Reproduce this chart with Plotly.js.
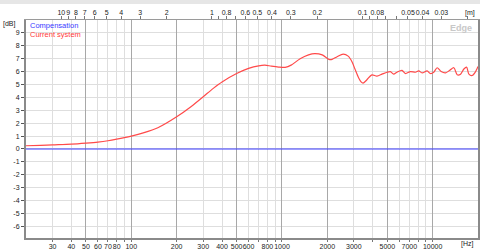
<!DOCTYPE html>
<html><head><meta charset="utf-8">
<script src="https://cdn.plot.ly/plotly-3.0.1.min.js"></script>
<style>html,body{margin:0;padding:0;background:#fff;}#chart{width:480px;height:251px;}</style>
</head><body><div id="chart"></div>
<script>
// Frequency response data (Hz, dB)
const freqHz = [20,25,30,40,50,60,70,80,90,100,120,150,200,250,300,350,400,500,600,700,770,850,950,1050,1150,1320,1500,1650,1850,2050,2150,2320,2550,2750,2920,3050,3230,3350,3450,3650,3950,4270,4610,4980,5240,5510,5800,6260,6590,7120,7690,8090,8510,9190,9670,10170,10710,11390,12170,13000,13830,14560,15320,16120,16800,17400,18320,19280,20000];
const currentDb = [0.25,0.28,0.32,0.38,0.46,0.54,0.64,0.76,0.88,1.0,1.25,1.65,2.5,3.3,4.05,4.7,5.2,5.85,6.25,6.45,6.5,6.42,6.35,6.33,6.5,7.0,7.3,7.4,7.3,6.95,6.95,7.15,7.35,7.2,6.75,6.2,5.5,5.2,5.1,5.35,5.75,5.65,5.8,5.95,6.0,5.8,5.95,6.1,5.85,6.0,5.95,6.05,5.9,6.05,5.85,5.95,6.3,6.0,5.9,6.1,6.3,5.75,5.8,6.2,6.35,5.8,5.7,6.0,6.4];
const compFreqHz = [20,20000];
const compDb = [0,0];

// Bottom axis ticks
const hzTicks = [30,40,50,60,70,80,90,100,200,300,400,500,600,700,800,900,1000,2000,3000,4000,5000,6000,7000,8000,9000,10000];
const hzLabels = ['30','40','50','60','70','80','','100','200','300','400','500','600','','800','','1000','2000','3000','','5000','','7000','','','10000'];
const hzMajorGrid = [50,100,200,500,1000,2000,5000,10000];

// Top axis (wavelength, m)
const speedOfSound = 343;
const lambdaTicks = [10,9,8,7,6,5,4,3,2,1,0.9,0.8,0.7,0.6,0.5,0.4,0.3,0.2,0.1,0.09,0.08,0.07,0.06,0.05,0.04,0.03,0.02];
const lambdaLabels = ['10','9','8','7','6','5','4','3','2','1','','0.8','','0.6','0.5','0.4','0.3','0.2','0.1','','0.08','','','0.05','0.04','0.03',''];

// Y axis
const dbTicks = [-6,-5,-4,-3,-2,-1,0,1,2,3,4,5,6,7,8,9];

const xr = [Math.log10(20), Math.log10(20000)];
const fam = 'Liberation Sans Narrow, Liberation Sans, Arial, sans-serif';
const font = {family:fam, size:7, color:'#222'};

const traces = [
  {x: compFreqHz, y: compDb, type:'scatter', mode:'lines', line:{color:'#3a3aff', width:1.2}, hoverinfo:'skip', name:'Compensation'},
  {x: freqHz, y: currentDb, type:'scatter', mode:'lines', line:{color:'#ff4a4a', width:1.2, shape:'spline', smoothing:0.8}, hoverinfo:'skip', name:'Current system'},
  {x: compFreqHz, y: compDb, xaxis:'x2', type:'scatter', mode:'lines', line:{width:0, color:'rgba(0,0,0,0)'}, hoverinfo:'skip', showlegend:false},
  {x: compFreqHz, y: compDb, xaxis:'x3', type:'scatter', mode:'lines', line:{width:0, color:'rgba(0,0,0,0)'}, hoverinfo:'skip', showlegend:false}
];

const layout = {
  width:480, height:251,
  margin:{l:26, r:2, t:20, b:13},
  paper_bgcolor:'#fff', plot_bgcolor:'#fff',
  showlegend:false,
  font: font,
  xaxis:{type:'log', range:xr, tickmode:'array', tickvals:hzTicks, ticktext:hzLabels, tickangle:0,
    showgrid:true, gridcolor:'#dedede', gridwidth:1, ticks:'outside', ticklen:2, tickcolor:'#777',
    showline:true, linecolor:'#8a8a8a', linewidth:2, zeroline:false, tickfont:font, ticklabelstandoff:-1},
  xaxis3:{type:'log', range:xr, overlaying:'x', side:'bottom', tickmode:'array', tickvals:hzMajorGrid,
    showticklabels:false, ticks:'', showgrid:true, gridcolor:'#a8a8a8', gridwidth:1, showline:false, zeroline:false},
  xaxis2:{type:'log', range:xr, overlaying:'x', side:'top', tickmode:'array', tickangle:0,
    tickvals: lambdaTicks.map(l => speedOfSound / l), ticktext: lambdaLabels,
    showgrid:false, ticks:'outside', ticklen:3, tickcolor:'#777',
    showline:true, linecolor:'#9a9a9a', linewidth:1, zeroline:false, tickfont:font, ticklabelstandoff:-2},
  yaxis:{range:[-6.9,10], tickmode:'array', tickvals:dbTicks, ticktext:dbTicks.map(String),
    showgrid:true, gridcolor:'#dedede', gridwidth:1, ticks:'outside', ticklen:3, tickcolor:'#555',
    showline:true, linecolor:'#8a8a8a', linewidth:2, mirror:true, zeroline:false, tickfont:font},
  annotations:[
    {xref:'paper', yref:'paper', x:0, y:1, xshift:-25, yshift:-4, xanchor:'left', yanchor:'middle', text:'[dB]', showarrow:false, font:font},
    {xref:'paper', yref:'paper', x:0, y:1, xshift:2, yshift:-5, xanchor:'left', yanchor:'middle', text:'Compensation', showarrow:false, font:{family:fam, size:7.5, color:'#3a3aff'}},
    {xref:'paper', yref:'paper', x:0, y:1, xshift:2, yshift:-14, xanchor:'left', yanchor:'middle', text:'Current system', showarrow:false, font:{family:fam, size:7.5, color:'#ff3a3a'}},
    {xref:'paper', yref:'paper', x:1, y:1, xshift:-4, yshift:-8, xanchor:'right', yanchor:'middle', text:'<b>Edge</b>', showarrow:false, font:{family:'Liberation Sans, Arial, sans-serif', size:9, color:'#c8c8c8'}},
    {xref:'paper', yref:'paper', x:1, y:1, xshift:-1, yshift:7, xanchor:'right', yanchor:'middle', text:'[m]', showarrow:false, font:font},
    {xref:'paper', yref:'paper', x:1, y:0, xshift:-2, yshift:-6, xanchor:'right', yanchor:'middle', text:'[Hz]', showarrow:false, font:font}
  ],
  shapes:[
    {type:'rect', xref:'paper', yref:'paper', x0:-0.06, x1:1.01, y0:1+16/218, y1:1+20/218, fillcolor:'#e6e6e6', line:{width:0}}
  ]
};

Plotly.newPlot('chart', traces, layout, {staticPlot:true, displayModeBar:false});
</script>
</body></html>
